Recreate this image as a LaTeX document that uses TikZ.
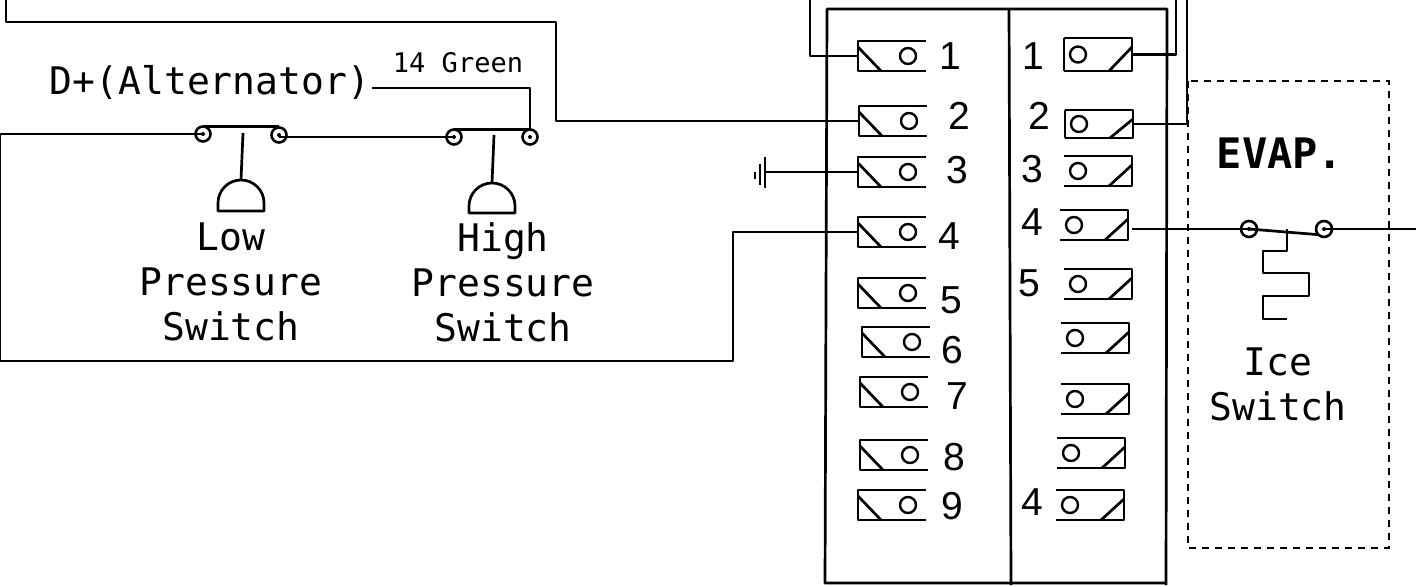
\documentclass[tikz,border=0pt]{standalone}
\usepackage{fontspec}
\setmainfont{Liberation Sans}
\setmonofont{DejaVu Sans Mono}
\usetikzlibrary{positioning}
\newcommand{\s}{0.5pt}
% left contact, open on the right
\newcommand{\lterm}[3]{
    \node[term] (#1) at (#2*\s,-#3*\s) {};
    \draw[wire] (#1.north east) -- (#1.north west) -- (#1.south west) -- (#1.south east);
    \draw[wire] ([yshift=-3pt]#1.north west) -- ([xshift=11.5pt]#1.south west);
    \node[pin, xshift=8pt] (#1-pin) at (#1.center) {};
}
% right contact, open on the left
\newcommand{\rterm}[4][]{
    \node[term, #1] (#2) at (#3*\s,-#4*\s) {};
    \draw[wire] (#2.north west) -- (#2.north east) -- (#2.south east) -- (#2.south west);
    \draw[wire] ([yshift=-4.5pt]#2.north east) -- ([xshift=-11.5pt]#2.south east);
    \node[pin, xshift=-10pt] (#2-pin) at (#2.center) {};
}
% switch terminal with its dot
\newcommand{\stud}[4][]{
    \node[studring, #1] (#2) at (#3*\s,-#4*\s) {};
    \node[studdot] (#2-dot) at (#2.center) {};
}
\begin{document}
\begin{tikzpicture}[x=\s, y=-\s,
    wire/.style={line width=1.35pt, line join=round},
    term/.style={anchor=north west, minimum width=34pt, minimum height=15pt, inner sep=0pt, outer sep=0pt},
    pin/.style={draw, circle, line width=1.2pt, minimum size=8pt, inner sep=0pt},
    studring/.style={draw, circle, line width=1.3pt, minimum size=7.5pt, inner sep=0pt, outer sep=0pt},
    studdot/.style={fill, circle, minimum size=2pt, inner sep=0pt},
    num/.style={font=\fontsize{19.5}{22}\selectfont, inner sep=0pt},
    lab/.style={font=\ttfamily\fontsize{19}{22.5}\selectfont, align=center, inner sep=0pt},
    small/.style={font=\ttfamily\fontsize{13.5}{16}\selectfont, inner sep=0pt}]
    \useasboundingbox (0,0) rectangle (1416,587);

    % Panel
    \coordinate (panel-nw) at (827,9);
    \coordinate (panel-ne) at (1167,9);
    \coordinate (panel-sw) at (825,583);
    \coordinate (panel-se) at (1165,583);
    \draw[wire] (1166,585) -- (panel-ne) -- (panel-nw) -- (panel-sw) -- (panel-se);
    \draw[wire] (1009,9) -- (1011,585);

    % Left row
    \lterm{left-1}{858}{41}
    \lterm{left-2}{859}{106}
    \lterm{left-3}{858}{157}
    \lterm{left-4}{858}{217}
    \lterm{left-5}{858}{278}
    \lterm{left-6}{862}{327}
    \lterm{left-7}{860}{377}
    \lterm{left-8}{860}{440}
    \lterm{left-9}{858}{490}

    % Right row
    \rterm[minimum height=16.5pt]{right-1}{1064}{38}
    \rterm[minimum height=14pt]{right-2}{1065}{110}
    \rterm{right-3}{1064}{156}
    \rterm{right-4}{1060}{210}
    \rterm{right-5}{1064}{269}
    \rterm{right-6}{1061}{323}
    \rterm{right-7}{1061}{384}
    \rterm{right-8}{1057}{438}
    \rterm{right-9}{1056}{490}
    \draw[wire] (right-1.north west) -- (right-1.south west);
    \draw[wire] (right-2.north west) -- (right-2.south west);

    % Numbers
    \node[num] (num-l1) at (950,56) {1};
    \node[num] (num-l2) at (959,116) {2};
    \node[num] (num-l3) at (957,170) {3};
    \node[num] (num-l4) at (949,236) {4};
    \node[num] (num-l5) at (951,300) {5};
    \node[num] (num-l6) at (952,350) {6};
    \node[num] (num-l7) at (957,396) {7};
    \node[num] (num-l8) at (954,457) {8};
    \node[num] (num-l9) at (952,506) {9};
    \node[num] (num-r1) at (1033,56) {1};
    \node[num] (num-r2) at (1039,116) {2};
    \node[num] (num-r3) at (1032,169) {3};
    \node[num] (num-r4) at (1032,222) {4};
    \node[num] (num-r5) at (1029,283) {5};
    \node[num] (num-r9) at (1032,502) {4};

    % Pressure switches
    \stud{low-a}{203}{134}
    \stud{low-b}{279}{135}
    \stud{high-a}{454}{137}
    \stud{high-b}{530}{137}
    \draw[wire] (low-a.north) -- (low-a.north -| low-b.north);
    \draw[wire] (high-a.north) -- (high-b.north);
    \draw[wire] (243,133) -- (241,180);
    \draw[wire] (494,135) -- (492,183);
    \draw[wire] (218,211) -- (264,211) -- (264,203) arc (0:-180:23 and 23) -- cycle;
    \draw[wire] (469,213) -- (515,213) -- (515,206) arc (0:-180:23 and 23) -- cycle;
    \draw[wire] (low-b.center |- high-a.center) -- (high-a.center);

    \node[lab] (alternator) at (210,82) {D+(Alternator)};
    \node[small] (green) at (458,63) {14 Green};
    \node[lab] (low-text) at (231,282) {Low\\Pressure\\Switch};
    \node[lab] (high-text) at (503,282) {High\\Pressure\\Switch};

    % Ground
    \coordinate (gnd) at (765,172);
    \draw[wire] (left-3.west) -- (gnd);
    \draw[wire] (765,157) -- (765,188);
    \draw[wire] (760,164) -- (760,185);
    \draw[wire] (755,172) -- (755,179);

    % Wires
    \coordinate (top-1) at (810,0);
    \coordinate (top-2) at (1176,0);
    \coordinate (top-3) at (1187,0);
    \coordinate (top-4) at (6,0);
    \coordinate (alt-out) at (372,88);
    \draw[wire] (left-1.west) -| (top-1);
    \draw[wire] (right-1.east) -| (top-2);
    \draw[wire] (right-2.east) -| (top-3);
    \draw[wire] (left-2.west) -| (556,22) -| (top-4);
    \draw[wire] (left-4.west) -| (733,361) -| (0,134) -- (low-a.center);
    \draw[wire] (alt-out) -| (high-b.north);

    % Evaporator
    \draw[line width=1.3pt, dash pattern=on 3.5pt off 3pt] (1188,81) rectangle (1389,548);
    \node[font=\ttfamily\bfseries\fontsize{21}{24}\selectfont, inner sep=0pt] (evap) at (1280,153) {EVAP.};
    \stud[minimum size=8pt]{ice-a}{1249}{229}
    \stud[minimum size=8pt]{ice-b}{1324}{229}
    \coordinate (ice-in) at (1132,229);
    \coordinate (ice-out) at (1416,229);
    \draw[wire] (ice-in) -- (ice-a.center);
    \draw[wire] (ice-b.center) -- (ice-out);
    \draw[wire] (ice-a.center) -- (ice-b.south west);
    \draw[wire] (1287,229) -- (1287,251) -- (1263,251) -- (1263,273) -- (1309,273) -- (1309,296) -- (1263,296) -- (1263,319) -- (1287,319);
    \node[lab] (ice-text) at (1278,384) {Ice\\Switch};

\end{tikzpicture}
\end{document}
